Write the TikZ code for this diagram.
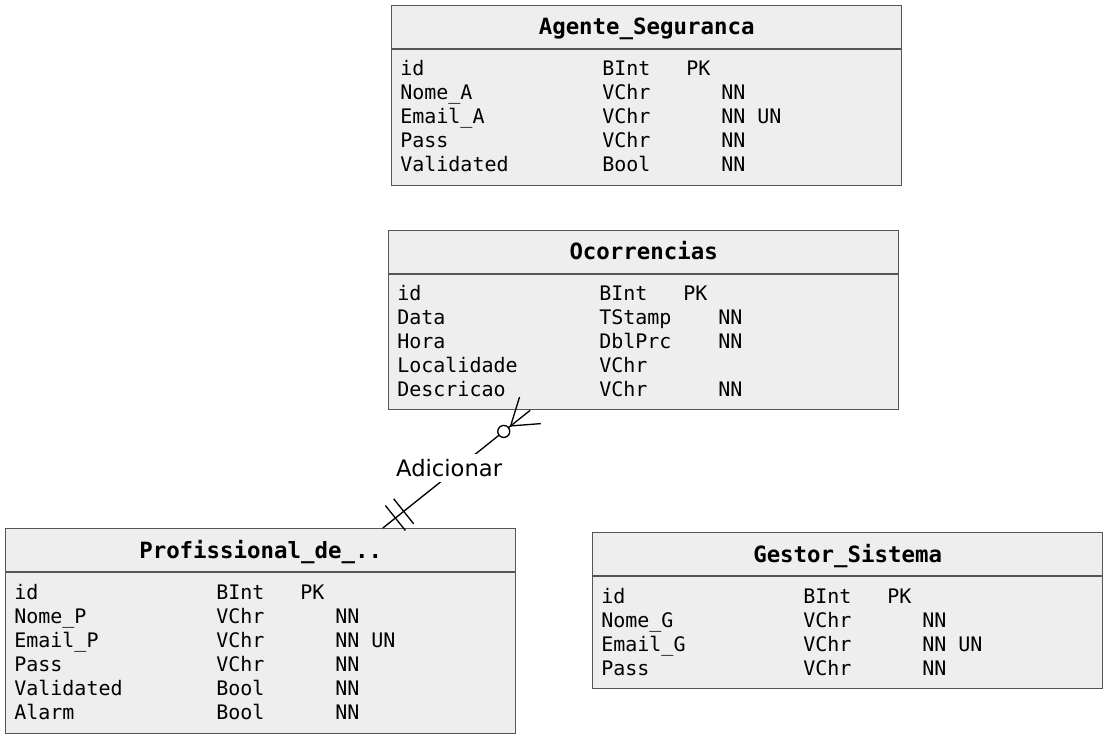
\documentclass[tikz,border=0pt]{standalone}
\usepackage{fontspec}
\setmonofont{DejaVu Sans Mono}
\setsansfont{DejaVu Sans}
\usetikzlibrary{calc}

\definecolor{tblfill}{RGB}{238,238,238}
\definecolor{tbledge}{RGB}{85,85,85}

\tikzset{
  tblbox/.style={draw=tbledge, fill=tblfill, line width=1pt, minimum width=382.5pt, inner sep=0pt, anchor=north west},
  tblsep/.style={draw=tbledge, line width=1pt},
  tbltitle/.style={font=\ttfamily\bfseries\fontsize{16.8}{18}\selectfont, inner sep=0pt, anchor=base},
  tblrow/.style={font=\ttfamily\fontsize{15}{16}\selectfont, inner sep=0pt, anchor=base west},
  erline/.style={draw=black, line width=1pt},
  erlabel/.style={font=\sffamily\fontsize{17}{18}\selectfont, fill=white, inner xsep=2pt, inner ysep=4pt},
}

\begin{document}
\begin{tikzpicture}[x=0.75pt, y=-0.75pt]
  \useasboundingbox (0,0) rectangle (1106,737);

  % Agente_Seguranca
  \node[tblbox, minimum height=135pt] (agente) at (391,5) {};
  \draw[tblsep] ($(agente.north west)+(0,44)$) -- ($(agente.north east)+(0,44)$);
  \node[tbltitle] (agente-t) at ($(agente.north)+(0,30)$) {Agente\_Seguranca};
  \foreach \n/\t/\k/\f [count=\i from 0] in {id/BInt/PK/{}, Nome\_A/VChr/{}/NN, Email\_A/VChr/{}/NN UN, Pass/VChr/{}/NN, Validated/Bool/{}/NN}{
    \node[tblrow] (agente-n\i) at ($(agente.north west)+(9,{71+24*\i})$) {\n};
    \node[tblrow] (agente-t\i) at ($(agente.north west)+(211,{71+24*\i})$) {\t};
    \node[tblrow] (agente-k\i) at ($(agente.north west)+(295,{71+24*\i})$) {\k};
    \node[tblrow] (agente-f\i) at ($(agente.north west)+(330,{71+24*\i})$) {\f};
  }

  % Ocorrencias
  \node[tblbox, minimum height=134.25pt] (ocorr) at (388,230) {};
  \draw[tblsep] ($(ocorr.north west)+(0,44)$) -- ($(ocorr.north east)+(0,44)$);
  \node[tbltitle] (ocorr-t) at ($(ocorr.north)+(0,30)$) {Ocorrencias};
  \foreach \n/\t/\k/\f [count=\i from 0] in {id/BInt/PK/{}, Data/TStamp/{}/NN, Hora/DblPrc/{}/NN, Localidade/VChr/{}/{}, Descricao/VChr/{}/NN}{
    \node[tblrow] (ocorr-n\i) at ($(ocorr.north west)+(9,{71+24*\i})$) {\n};
    \node[tblrow] (ocorr-t\i) at ($(ocorr.north west)+(211,{71+24*\i})$) {\t};
    \node[tblrow] (ocorr-k\i) at ($(ocorr.north west)+(295,{71+24*\i})$) {\k};
    \node[tblrow] (ocorr-f\i) at ($(ocorr.north west)+(330,{71+24*\i})$) {\f};
  }

  % Profissional_de_..
  \node[tblbox, minimum height=153.75pt] (prof) at (5,528) {};
  \draw[tblsep] ($(prof.north west)+(0,44)$) -- ($(prof.north east)+(0,44)$);
  \node[tbltitle] (prof-t) at ($(prof.north)+(0,30)$) {Profissional\_de\_..};
  \foreach \n/\t/\k/\f [count=\i from 0] in {id/BInt/PK/{}, Nome\_P/VChr/{}/NN, Email\_P/VChr/{}/NN UN, Pass/VChr/{}/NN, Validated/Bool/{}/NN, Alarm/Bool/{}/NN}{
    \node[tblrow] (prof-n\i) at ($(prof.north west)+(9,{71+24*\i})$) {\n};
    \node[tblrow] (prof-t\i) at ($(prof.north west)+(211,{71+24*\i})$) {\t};
    \node[tblrow] (prof-k\i) at ($(prof.north west)+(295,{71+24*\i})$) {\k};
    \node[tblrow] (prof-f\i) at ($(prof.north west)+(330,{71+24*\i})$) {\f};
  }

  % Gestor_Sistema
  \node[tblbox, minimum height=117pt] (gestor) at (592,532) {};
  \draw[tblsep] ($(gestor.north west)+(0,44)$) -- ($(gestor.north east)+(0,44)$);
  \node[tbltitle] (gestor-t) at ($(gestor.north)+(0,30)$) {Gestor\_Sistema};
  \foreach \n/\t/\k/\f [count=\i from 0] in {id/BInt/PK/{}, Nome\_G/VChr/{}/NN, Email\_G/VChr/{}/NN UN, Pass/VChr/{}/NN}{
    \node[tblrow] (gestor-n\i) at ($(gestor.north west)+(9,{71+24*\i})$) {\n};
    \node[tblrow] (gestor-t\i) at ($(gestor.north west)+(211,{71+24*\i})$) {\t};
    \node[tblrow] (gestor-k\i) at ($(gestor.north west)+(295,{71+24*\i})$) {\k};
    \node[tblrow] (gestor-f\i) at ($(gestor.north west)+(330,{71+24*\i})$) {\f};
  }

  % relation Adicionar (mandatory one -- zero or many)
  \coordinate (adic-a) at ($(prof.north west)!0.739!(prof.north east)$);
  \coordinate (adic-b) at ($(ocorr.south west)!0.278!(ocorr.south east)$);
  \draw[erline] (adic-a) -- node[erlabel, pos=0.45, yshift=5.5pt] (adic-l) {Adicionar} (adic-b);
  % two bars
  \coordinate (adic-bar1) at ($(adic-a)!12pt!(adic-b)$);
  \coordinate (adic-bar2) at ($(adic-a)!20pt!(adic-b)$);
  \draw[erline] ($(adic-bar1)!12pt!90:(adic-b)$) -- ($(adic-bar1)!12pt!-90:(adic-b)$);
  \draw[erline] ($(adic-bar2)!12pt!90:(adic-b)$) -- ($(adic-bar2)!12pt!-90:(adic-b)$);
  % crow's foot and circle
  \coordinate (adic-foot) at ($(adic-b)!18.75pt!(adic-a)$);
  \draw[erline] ($(adic-b)!12.75pt!90:(adic-a)$) -- (adic-foot) -- ($(adic-b)!12.75pt!-90:(adic-a)$);
  \node[erline, circle, fill=white, minimum size=9pt, inner sep=0pt] (adic-c) at ($(adic-b)!25.35pt!(adic-a)$) {};
\end{tikzpicture}
\end{document}
